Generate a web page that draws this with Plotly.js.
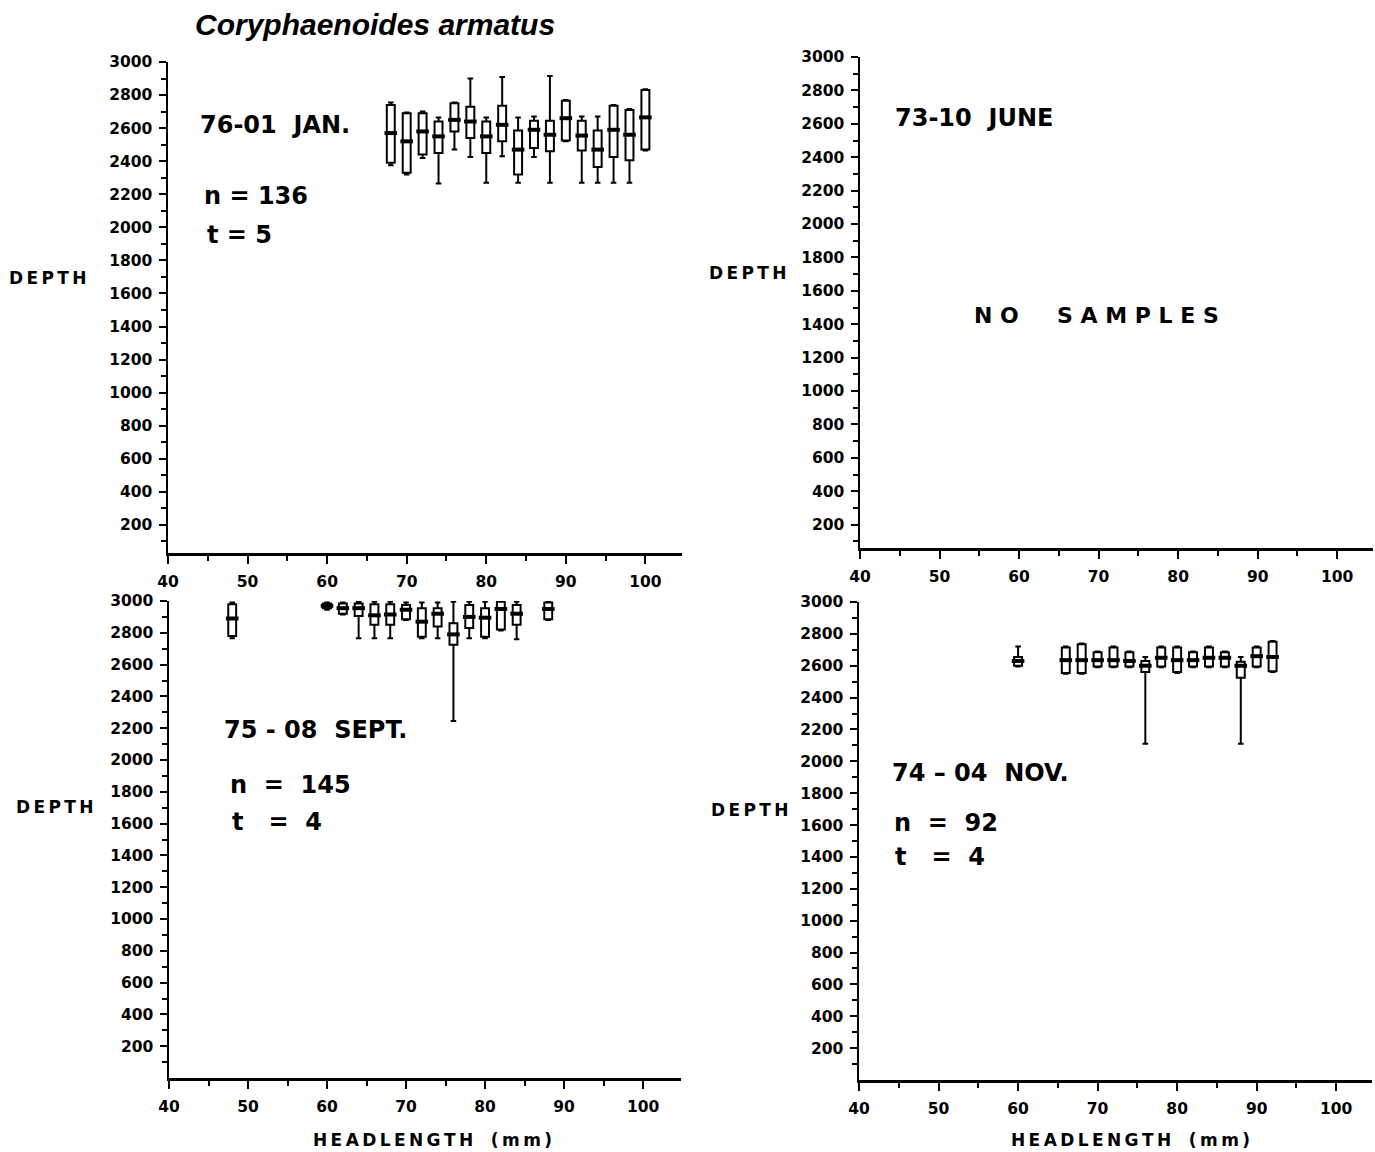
<!DOCTYPE html>
<html>
<head>
<meta charset="utf-8">
<script src="https://cdn.plot.ly/plotly-3.0.1.min.js"></script>
<style>html,body{margin:0;padding:0;background:#fff;}#chart{width:1375px;height:1152px;}</style>
</head>
<body>
<div id="chart"></div>
<script>
// ---------- DATA ----------
// Panel 76-01 JAN. (n = 136, t = 5)
const janX      = [68, 70, 72, 74, 76, 78, 80, 82, 84, 86, 88, 90, 92, 94, 96, 98, 100];
const janLow    = [2375, 2320, 2420, 2265, 2470, 2425, 2270, 2430, 2270, 2425, 2270, 2520, 2270, 2270, 2270, 2270, 2465];
const janQ1     = [2390, 2330, 2440, 2450, 2580, 2540, 2450, 2520, 2320, 2480, 2460, 2525, 2465, 2365, 2425, 2405, 2470];
const janMed    = [2570, 2520, 2580, 2550, 2650, 2640, 2550, 2620, 2470, 2590, 2560, 2660, 2555, 2470, 2590, 2560, 2665];
const janQ3     = [2740, 2690, 2690, 2640, 2750, 2730, 2640, 2735, 2585, 2645, 2645, 2765, 2645, 2585, 2735, 2710, 2830];
const janHigh   = [2755, 2695, 2700, 2665, 2755, 2900, 2665, 2910, 2665, 2670, 2915, 2770, 2670, 2670, 2740, 2715, 2835];

// Panel 73-10 JUNE : no samples
const juneX = [];
const juneY = [];

// Panel 75-08 SEPT. (n = 145, t = 4)
const sepX      = [48, 60, 62, 64, 66, 68, 70, 72, 74, 76, 78, 80, 82, 84, 88];
const sepLow    = [2765, 2945, 2915, 2765, 2765, 2765, 2880, 2765, 2765, 2245, 2765, 2765, 2815, 2760, 2880];
const sepQ1     = [2780, 2955, 2920, 2905, 2850, 2850, 2885, 2775, 2840, 2725, 2830, 2775, 2820, 2850, 2885];
const sepMed    = [2890, 2970, 2955, 2955, 2910, 2915, 2945, 2870, 2920, 2790, 2900, 2895, 2950, 2920, 2950];
const sepQ3     = [2980, 2985, 2985, 2985, 2980, 2980, 2975, 2955, 2955, 2860, 2975, 2955, 2995, 2975, 2990];
const sepHigh   = [2990, 2990, 2990, 2995, 2995, 2995, 2990, 2990, 2990, 2995, 2995, 2995, 3000, 2995, 3000];

// Panel 74-04 NOV. (n = 92, t = 4)
const novX      = [60, 66, 68, 70, 72, 74, 76, 78, 80, 82, 84, 86, 88, 90, 92];
const novLow    = [2595, 2550, 2550, 2590, 2590, 2590, 2110, 2590, 2555, 2590, 2590, 2590, 2110, 2590, 2560];
const novQ1     = [2600, 2555, 2555, 2595, 2595, 2595, 2560, 2595, 2560, 2595, 2595, 2595, 2525, 2595, 2565];
const novMed    = [2630, 2635, 2635, 2635, 2635, 2630, 2600, 2650, 2635, 2635, 2650, 2650, 2600, 2660, 2655];
const novQ3     = [2655, 2715, 2735, 2685, 2715, 2685, 2630, 2715, 2715, 2685, 2715, 2685, 2625, 2715, 2750];
const novHigh   = [2720, 2720, 2740, 2690, 2720, 2690, 2655, 2720, 2720, 2690, 2720, 2690, 2655, 2720, 2755];

// Tick labels
const xTicks = [40, 50, 60, 70, 80, 90, 100];
const xMinor = [45, 55, 65, 75, 85, 95];
const yTicks = [200, 400, 600, 800, 1000, 1200, 1400, 1600, 1800, 2000, 2200, 2400, 2600, 2800, 3000];
const yMinor = [100, 300, 500, 700, 900, 1100, 1300, 1500, 1700, 1900, 2100, 2300, 2500, 2700, 2900];

// ---------- CHART ----------
const W = 1375, H = 1152;
function boxTrace(x, lo, q1, med, q3, hi, xa, ya) {
  return {
    type: 'box', orientation: 'v', x: x, lowerfence: lo, q1: q1, median: med, q3: q3, upperfence: hi,
    xaxis: xa, yaxis: ya, width: 1.0, whiskerwidth: 0.7, boxpoints: false,
    line: {color: '#000', width: 2}, fillcolor: '#fff', hoverinfo: 'skip'
  };
}
function medTrace(x, med, xa, ya) {
  return {
    type: 'scatter', mode: 'markers', x: x, y: med, xaxis: xa, yaxis: ya, hoverinfo: 'skip',
    marker: {symbol: 'line-ew', size: 9, line: {width: 4, color: '#000'}, color: '#000'}
  };
}
const data = [
  boxTrace(janX, janLow, janQ1, janMed, janQ3, janHigh, 'x', 'y'),
  medTrace(janX, janMed, 'x', 'y'),
  {type: 'scatter', mode: 'markers', x: juneX, y: juneY, xaxis: 'x2', yaxis: 'y2', hoverinfo: 'skip'},
  boxTrace(sepX, sepLow, sepQ1, sepMed, sepQ3, sepHigh, 'x3', 'y3'),
  medTrace(sepX, sepMed, 'x3', 'y3'),
  boxTrace(novX, novLow, novQ1, novMed, novQ3, novHigh, 'x4', 'y4'),
  medTrace(novX, novMed, 'x4', 'y4')
];

const tickFont = {family: 'DejaVu Sans', size: 15.5, color: '#000', weight: 'bold'};
function xAxis(dom, rng, anchor) {
  return {
    domain: dom, range: rng, anchor: anchor, showline: true, linecolor: '#000', linewidth: 2.5,
    showgrid: false, zeroline: false, ticks: 'outside', ticklen: 8, tickwidth: 2, tickcolor: '#000',
    tickmode: 'array', tickvals: xTicks, ticktext: xTicks.map(String), tickfont: tickFont,
    ticklabelstandoff: 5,
    minor: {tickmode: 'array', tickvals: xMinor, ticks: 'outside', ticklen: 5, tickwidth: 2, tickcolor: '#000', showgrid: false}
  };
}
function yAxis(dom, rng, anchor) {
  return {
    domain: dom, range: rng, anchor: anchor, showline: true, linecolor: '#000', linewidth: 2.5,
    showgrid: false, zeroline: false, ticks: 'outside', ticklen: 7, tickwidth: 2, tickcolor: '#000',
    tickmode: 'array', tickvals: yTicks, ticktext: yTicks.map(String), tickfont: tickFont,
    ticklabelstandoff: 3,
    minor: {tickmode: 'array', tickvals: yMinor, ticks: 'outside', ticklen: 5, tickwidth: 2, tickcolor: '#000', showgrid: false}
  };
}
function px(x) { return x / W; }
function py(y) { return 1 - y / H; }
const labFont = {family: 'DejaVu Sans', size: 24, color: '#000', weight: 'bold'};
const nsFont = {family: 'DejaVu Sans', size: 22, color: '#000', weight: 'bold'};
const axFont = {family: 'DejaVu Sans', size: 17, color: '#000', weight: 'bold'};
const th = '\u2009';
function spaced(s) { return s.split('').join(th); }
function ann(text, x, y, font, xanchor) {
  return {text: text, x: px(x), y: py(y), xref: 'paper', yref: 'paper', showarrow: false,
          xanchor: xanchor || 'left', yanchor: 'middle', font: font};
}
const annotations = [
  ann('Coryphaenoides armatus', 375, 25, {family: 'Liberation Sans', size: 30, color: '#000', weight: 'bold', style: 'italic'}, 'center'),
  ann('76-01  JAN.', 198, 125, labFont),
  ann('n = 136', 202, 196, labFont),
  ann('t = 5', 205, 235, labFont),
  ann(spaced('DEPTH'), 48, 278, axFont, 'center'),
  ann('73-10  JUNE', 893, 118, labFont),
  ann('N O     S A M P L E S', 972, 315, nsFont),
  ann(spaced('DEPTH'), 748, 273, axFont, 'center'),
  ann('75 - 08  SEPT.', 222, 730, labFont),
  ann('n  =  145', 228, 785, labFont),
  ann('t   =  4', 230, 822, labFont),
  ann(spaced('DEPTH'), 55, 807, axFont, 'center'),
  ann(spaced('HEADLENGTH') + '   ' + spaced('(mm)'), 432, 1140, axFont, 'center'),
  ann('74 – 04  NOV.', 890, 773, labFont),
  ann('n  =  92', 892, 823, labFont),
  ann('t   =  4', 893, 857, labFont),
  ann(spaced('DEPTH'), 750, 810, axFont, 'center'),
  ann(spaced('HEADLENGTH') + '   ' + spaced('(mm)'), 1130, 1140, axFont, 'center')
];

const layout = {
  width: W, height: H, margin: {l: 0, r: 0, t: 0, b: 0},
  paper_bgcolor: '#fff', plot_bgcolor: '#fff', showlegend: false,
  xaxis:  xAxis([168 / W, 682 / W], [40, 104.6], 'y'),
  yaxis:  yAxis([1 - 553 / H, 1 - 62 / H], [30, 3000], 'x'),
  xaxis2: xAxis([860 / W, 1373 / W], [40, 104.5], 'y2'),
  yaxis2: yAxis([1 - 548 / H, 1 - 57 / H], [60, 3000], 'x2'),
  xaxis3: xAxis([169 / W, 681 / W], [40, 104.8], 'y3'),
  yaxis3: yAxis([1 - 1078 / H, 1 - 601 / H], [0, 3000], 'x3'),
  xaxis4: xAxis([859 / W, 1372 / W], [40, 104.5], 'y4'),
  yaxis4: yAxis([1 - 1080 / H, 1 - 602 / H], [0, 3000], 'x4'),
  annotations: annotations
};
Plotly.newPlot('chart', data, layout, {staticPlot: true, displayModeBar: false});
</script>
</body>
</html>
